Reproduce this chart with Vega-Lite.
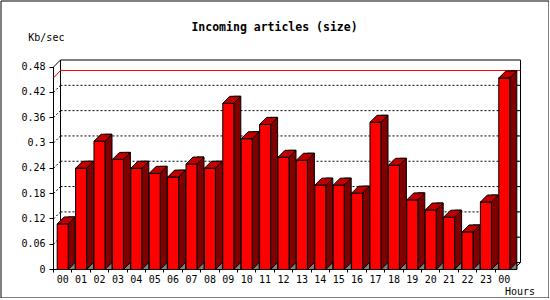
{
  "$schema": "https://vega.github.io/schema/vega-lite/v6.json",
  "width": 548,
  "height": 297,
  "autosize": "none",
  "padding": {"left": 0.5, "top": 0.5, "right": 0, "bottom": 0},
  "background": "white",
  "config": {
    "view": {"stroke": "black", "strokeWidth": 1, "fill": "white"},
    "axis": {
      "domainColor": "black", "tickColor": "black", "labelColor": "black", "titleColor": "black",
      "labelFont": "DejaVu Sans Mono", "labelFontSize": 10,
      "titleFont": "DejaVu Sans Mono", "titleFontSize": 10, "titleFontWeight": "normal",
      "grid": false, "translate": 0, "domainWidth": 1, "tickWidth": 1, "labelOverlap": false
    }
  },
  "title": {
    "text": "Incoming articles (size)",
    "font": "DejaVu Sans Mono", "fontSize": 11.5, "fontWeight": "bold", "color": "black",
    "anchor": "middle", "frame": "group", "baseline": "alphabetic", "offset": -42
  },
  "datasets": {
    "hours": [
      {"hour": "00", "value": 0.108}, {"hour": "01", "value": 0.240}, {"hour": "02", "value": 0.304},
      {"hour": "03", "value": 0.261}, {"hour": "04", "value": 0.240}, {"hour": "05", "value": 0.228},
      {"hour": "06", "value": 0.219}, {"hour": "07", "value": 0.250}, {"hour": "08", "value": 0.240},
      {"hour": "09", "value": 0.394}, {"hour": "10", "value": 0.310}, {"hour": "11", "value": 0.344},
      {"hour": "12", "value": 0.266}, {"hour": "13", "value": 0.259}, {"hour": "14", "value": 0.200},
      {"hour": "15", "value": 0.200}, {"hour": "16", "value": 0.181}, {"hour": "17", "value": 0.349},
      {"hour": "18", "value": 0.247}, {"hour": "19", "value": 0.165}, {"hour": "20", "value": 0.141},
      {"hour": "21", "value": 0.124}, {"hour": "22", "value": 0.089}, {"hour": "23", "value": 0.160},
      {"hour": "24", "value": 0.454}
    ],
    "ticks": [
      {"v": 0.06}, {"v": 0.12}, {"v": 0.18}, {"v": 0.24}, {"v": 0.30}, {"v": 0.36}, {"v": 0.42}
    ],
    "one": [{"k": 1}]
  },
  "data": {"name": "hours"},
  "layer": [
    {
      "mark": {"type": "bar", "fill": "#ff0000", "stroke": "black", "strokeWidth": 1, "opacity": 0},
      "encoding": {
        "x": {
          "field": "hour", "type": "ordinal",
          "scale": {"type": "band", "range": [53, 513], "paddingInner": 0.4, "paddingOuter": 0.2},
          "axis": {
            "orient": "bottom", "offset": -28, "tickSize": 3, "labelPadding": 2, "labelAngle": 0,
            "bandPosition": 0, "tickOffset": -3.68, "labelOffset": 3.68, "labelOverlap": false,
            "labelExpr": "datum.value == '24' ? '00' : datum.value",
            "title": "Hours", "titleX": 504.5, "titleY": 22.5, "titleAlign": "left", "titleBaseline": "middle", "titleAnchor": "start"
          }
        },
        "y": {
          "field": "value", "type": "quantitative",
          "scale": {"domain": [0, 0.48], "range": [269, 66.5], "nice": false, "zero": true},
          "axis": {
            "orient": "left", "offset": -53, "tickSize": 4, "labelPadding": 4, "labelOverlap": false,
            "values": [0, 0.06, 0.12, 0.18, 0.24, 0.3, 0.36, 0.42, 0.48], "tickCount": 20, "format": ".2~f",
            "title": "Kb/sec", "titleAngle": 0, "titleX": -25.2, "titleY": 37.5, "titleAlign": "left", "titleBaseline": "middle", "titleAnchor": "start"
          }
        }
      }
    },
    {
      "data": {"name": "one"},
      "mark": {"type": "rect", "fill": "white", "stroke": "black", "strokeWidth": 1, "xOffset": 7, "x2Offset": 7, "yOffset": -7, "y2Offset": -7},
      "encoding": {
        "x": {"value": {"expr": "range('x')[0]"}},
        "x2": {"value": {"expr": "range('x')[1]"}},
        "y": {"datum": 0.48, "type": "quantitative"},
        "y2": {"datum": 0}
      }
    },
    {
      "data": {"name": "ticks"},
      "mark": {"type": "rule", "color": "black", "strokeWidth": 1, "strokeDash": [2, 2], "xOffset": 7, "x2Offset": 7, "yOffset": -7},
      "encoding": {
        "x": {"value": {"expr": "range('x')[0]"}},
        "x2": {"value": {"expr": "range('x')[1]"}},
        "y": {"field": "v", "type": "quantitative"}
      }
    },
    {
      "data": {"name": "ticks"},
      "mark": {"type": "rule", "color": "black", "strokeWidth": 1, "strokeDash": [2, 2], "x2Offset": 7, "y2Offset": -7},
      "encoding": {
        "x": {"value": {"expr": "range('x')[0]"}},
        "x2": {"value": {"expr": "range('x')[0]"}},
        "y": {"field": "v", "type": "quantitative"},
        "y2": {"field": "v"}
      }
    },
    {
      "data": {"name": "ticks"},
      "mark": {"type": "rule", "color": "black", "strokeWidth": 1, "xOffset": 4, "x2Offset": 7, "yOffset": -7},
      "encoding": {
        "x": {"value": {"expr": "range('x')[1]"}},
        "x2": {"value": {"expr": "range('x')[1]"}},
        "y": {"field": "v", "type": "quantitative"}
      }
    },
    {
      "data": {"name": "one"},
      "mark": {"type": "rule", "color": "black", "strokeWidth": 1, "x2Offset": 7, "y2Offset": -7},
      "encoding": {
        "x": {"value": {"expr": "range('x')[0]"}},
        "x2": {"value": {"expr": "range('x')[0]"}},
        "y": {"datum": 0.48, "type": "quantitative"},
        "y2": {"datum": 0.48}
      }
    },
    {
      "data": {"name": "one"},
      "mark": {"type": "rule", "color": "black", "strokeWidth": 1, "x2Offset": 7, "y2Offset": -7},
      "encoding": {
        "x": {"value": {"expr": "range('x')[1]"}},
        "x2": {"value": {"expr": "range('x')[1]"}},
        "y": {"datum": 0, "type": "quantitative"},
        "y2": {"datum": 0}
      }
    },
    {
      "transform": [{"aggregate": [{"op": "max", "field": "value", "as": "m"}]}],
      "mark": {"type": "rule", "color": "#ff0000", "strokeWidth": 1, "xOffset": 7, "x2Offset": 7, "yOffset": -7.5},
      "encoding": {
        "x": {"value": {"expr": "range('x')[0]"}},
        "x2": {"value": {"expr": "range('x')[1]"}},
        "y": {"field": "m", "type": "quantitative"}
      }
    },
    {
      "transform": [{"aggregate": [{"op": "max", "field": "value", "as": "m"}]}],
      "mark": {"type": "rule", "color": "#ff0000", "strokeWidth": 1, "x2Offset": 7, "y2Offset": -7.5},
      "encoding": {
        "x": {"value": {"expr": "range('x')[0]"}},
        "x2": {"value": {"expr": "range('x')[0]"}},
        "y": {"field": "m", "type": "quantitative"},
        "y2": {"field": "m"}
      }
    },
    {
      "mark": {"type": "bar", "width": 7, "xOffset": 9, "yOffset": -7, "y2Offset": 0, "fill": "#800000", "stroke": "black", "strokeWidth": 1},
      "encoding": {
        "x": {"field": "hour", "type": "ordinal"},
        "y": {"field": "value", "type": "quantitative"},
        "y2": {"datum": 0}
      }
    },
    {
      "mark": {"type": "bar", "fill": "#ff0000", "stroke": "black", "strokeWidth": 1},
      "encoding": {
        "x": {"field": "hour", "type": "ordinal"},
        "y": {"field": "value", "type": "quantitative"}
      }
    },
    {
      "mark": {"type": "point", "shape": "M-5.5,0L5.5,0L12.5,-7L1.5,-7Z", "size": 4, "filled": true, "fill": "#c00000", "stroke": "black", "strokeWidth": 1, "opacity": 1},
      "encoding": {
        "x": {"field": "hour", "type": "ordinal"},
        "y": {"field": "value", "type": "quantitative"}
      }
    },
    {
      "mark": {"type": "point", "shape": "M5.5,0L12.5,0L12.5,-7Z", "size": 4, "filled": true, "fill": "#808080", "stroke": "black", "strokeWidth": 1, "opacity": 1},
      "encoding": {
        "x": {"field": "hour", "type": "ordinal"},
        "y": {"datum": 0, "type": "quantitative"}
      }
    }
  ]
}
